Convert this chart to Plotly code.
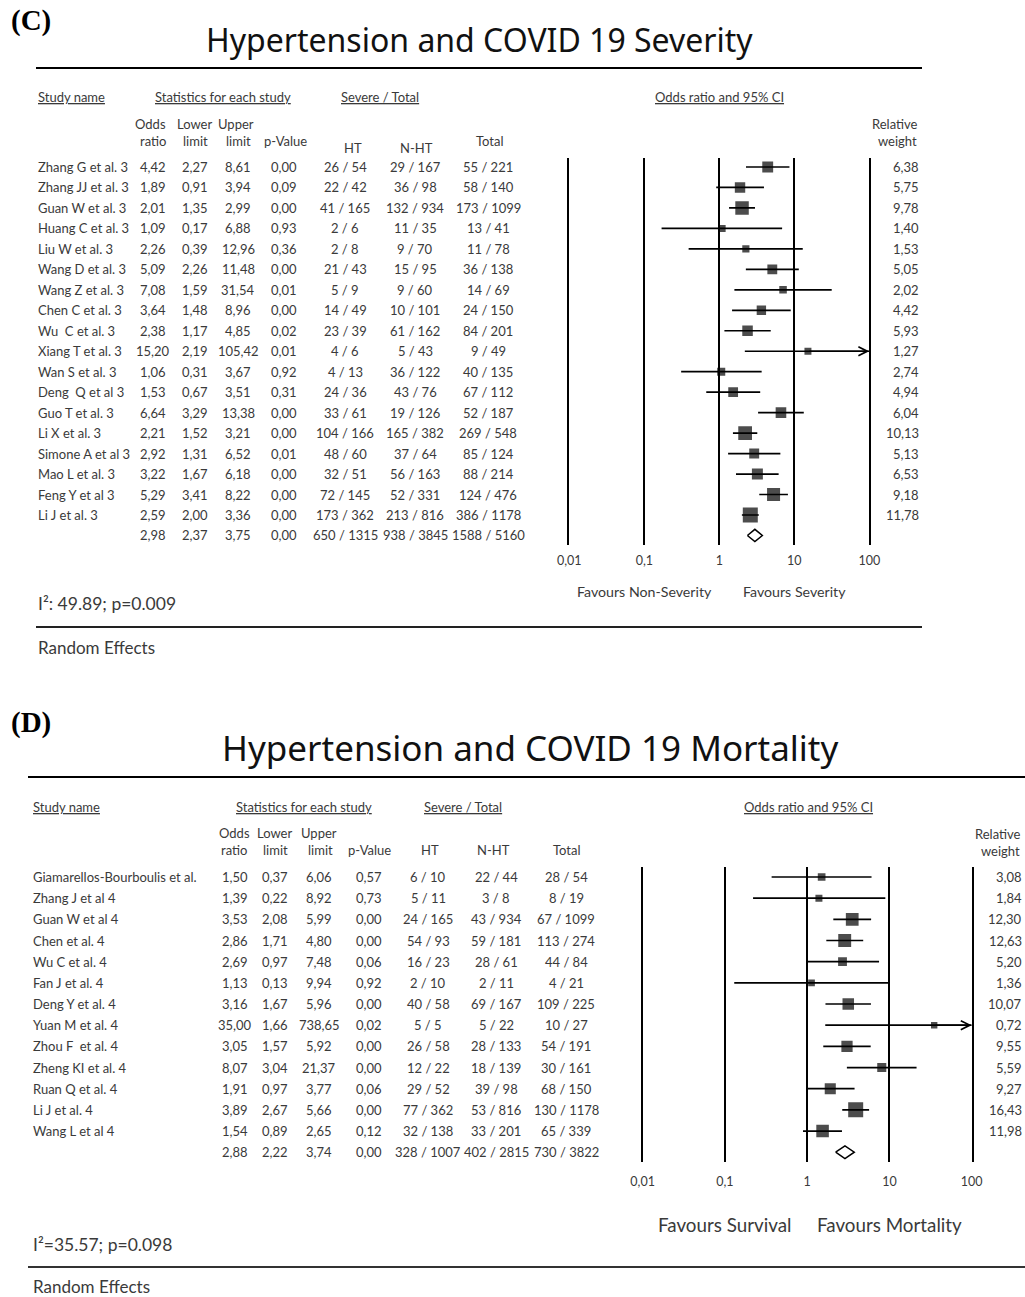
import math
import plotly.graph_objects as go

# ---------------- Panel C data (Severity) ----------------
c_study = ["Zhang G et al. 3", "Zhang JJ et al. 3", "Guan W et al. 3", "Huang C et al. 3",
           "Liu W et al. 3", "Wang D et al. 3", "Wang Z et al. 3", "Chen C et al. 3",
           "Wu  C et al. 3", "Xiang T et al. 3", "Wan S et al. 3", "Deng  Q et al 3",
           "Guo T et al. 3", "Li X et al. 3", "Simone A et al 3", "Mao L et al. 3",
           "Feng Y et al 3", "Li J et al. 3"]
c_or = [4.42, 1.89, 2.01, 1.09, 2.26, 5.09, 7.08, 3.64, 2.38, 15.20, 1.06, 1.53, 6.64, 2.21, 2.92, 3.22, 5.29, 2.59]
c_lo = [2.27, 0.91, 1.35, 0.17, 0.39, 2.26, 1.59, 1.48, 1.17, 2.19, 0.31, 0.67, 3.29, 1.52, 1.31, 1.67, 3.41, 2.00]
c_hi = [8.61, 3.94, 2.99, 6.88, 12.96, 11.48, 31.54, 8.96, 4.85, 105.42, 3.67, 3.51, 13.38, 3.21, 6.52, 6.18, 8.22, 3.36]
c_p = [0.00, 0.09, 0.00, 0.93, 0.36, 0.00, 0.01, 0.00, 0.02, 0.01, 0.92, 0.31, 0.00, 0.00, 0.01, 0.00, 0.00, 0.00]
c_ht = ["26 / 54", "22 / 42", "41 / 165", "2 / 6", "2 / 8", "21 / 43", "5 / 9", "14 / 49", "23 / 39",
        "4 / 6", "4 / 13", "24 / 36", "33 / 61", "104 / 166", "48 / 60", "32 / 51", "72 / 145", "173 / 362"]
c_nht = ["29 / 167", "36 / 98", "132 / 934", "11 / 35", "9 / 70", "15 / 95", "9 / 60", "10 / 101", "61 / 162",
         "5 / 43", "36 / 122", "43 / 76", "19 / 126", "165 / 382", "37 / 64", "56 / 163", "52 / 331", "213 / 816"]
c_tot = ["55 / 221", "58 / 140", "173 / 1099", "13 / 41", "11 / 78", "36 / 138", "14 / 69", "24 / 150", "84 / 201",
         "9 / 49", "40 / 135", "67 / 112", "52 / 187", "269 / 548", "85 / 124", "88 / 214", "124 / 476", "386 / 1178"]
c_w = [6.38, 5.75, 9.78, 1.40, 1.53, 5.05, 2.02, 4.42, 5.93, 1.27, 2.74, 4.94, 6.04, 10.13, 5.13, 6.53, 9.18, 11.78]
c_sum_or, c_sum_lo, c_sum_hi, c_sum_p = 2.98, 2.37, 3.75, 0.00
c_sum_ht, c_sum_nht, c_sum_tot = "650 / 1315", "938 / 3845", "1588 / 5160"
c_het = "I²: 49.89; p=0.009"

# ---------------- Panel D data (Mortality) ----------------
d_study = ["Giamarellos-Bourboulis et al.", "Zhang J et al 4", "Guan W et al 4", "Chen et al. 4",
           "Wu C et al. 4", "Fan J et al. 4", "Deng Y et al. 4", "Yuan M et al. 4", "Zhou F  et al. 4",
           "Zheng KI et al. 4", "Ruan Q et al. 4", "Li J et al. 4", "Wang L et al 4"]
d_or = [1.50, 1.39, 3.53, 2.86, 2.69, 1.13, 3.16, 35.00, 3.05, 8.07, 1.91, 3.89, 1.54]
d_lo = [0.37, 0.22, 2.08, 1.71, 0.97, 0.13, 1.67, 1.66, 1.57, 3.04, 0.97, 2.67, 0.89]
d_hi = [6.06, 8.92, 5.99, 4.80, 7.48, 9.94, 5.96, 738.65, 5.92, 21.37, 3.77, 5.66, 2.65]
d_p = [0.57, 0.73, 0.00, 0.00, 0.06, 0.92, 0.00, 0.02, 0.00, 0.00, 0.06, 0.00, 0.12]
d_ht = ["6 / 10", "5 / 11", "24 / 165", "54 / 93", "16 / 23", "2 / 10", "40 / 58", "5 / 5", "26 / 58",
        "12 / 22", "29 / 52", "77 / 362", "32 / 138"]
d_nht = ["22 / 44", "3 / 8", "43 / 934", "59 / 181", "28 / 61", "2 / 11", "69 / 167", "5 / 22", "28 / 133",
         "18 / 139", "39 / 98", "53 / 816", "33 / 201"]
d_tot = ["28 / 54", "8 / 19", "67 / 1099", "113 / 274", "44 / 84", "4 / 21", "109 / 225", "10 / 27",
         "54 / 191", "30 / 161", "68 / 150", "130 / 1178", "65 / 339"]
d_w = [3.08, 1.84, 12.30, 12.63, 5.20, 1.36, 10.07, 0.72, 9.55, 5.59, 9.27, 16.43, 11.98]
d_sum_or, d_sum_lo, d_sum_hi, d_sum_p = 2.88, 2.22, 3.74, 0.00
d_sum_ht, d_sum_nht, d_sum_tot = "328 / 1007", "402 / 2815", "730 / 3822"
d_het = "I²=35.57; p=0.098"

tick_vals = [0.01, 0.1, 1, 10, 100]
tick_text = ["0,01", "0,1", "1", "10", "100"]

# ---------------- helpers ----------------
W, H = 1025, 1297
TXT = "#3a3a3a"
TFONT = "Lato"
HFONT = "Noto Sans"
FS = 13


def px(x):
    return x / W


def py(y):
    return 1 - y / H


def fmt(v):
    return f"{v:.2f}".replace(".", ",")


fig = go.Figure()
ann = []
shapes = []


def txt(text, x, y, xref="paper", yref="paper", xanchor="center", size=FS, color=TXT,
        family=TFONT):
    ann.append(dict(text=text, x=x, y=y, xref=xref, yref=yref, xanchor=xanchor,
                    yanchor="middle", showarrow=False,
                    font=dict(size=size, color=color, family=family)))


def panel(xa, ya, names, ors, los, his, ps, hts, nhts, tots, ws,
          s_or, s_lo, s_hi, s_p, s_ht, s_nht, s_tot, cols, name_x, rw_x):
    n = len(names)
    xmax = max(tick_vals)
    for i in range(n):
        txt(names[i], px(name_x), i, yref=ya, xanchor="left")
        for key, val in (("or", fmt(ors[i])), ("lo", fmt(los[i])), ("hi", fmt(his[i])),
                         ("p", fmt(ps[i])), ("ht", hts[i]), ("nht", nhts[i]), ("tot", tots[i])):
            txt(val, px(cols[key]), i, yref=ya)
        txt(fmt(ws[i]), px(rw_x), i, yref=ya, xanchor="right")
    for key, val in (("or", fmt(s_or)), ("lo", fmt(s_lo)), ("hi", fmt(s_hi)), ("p", fmt(s_p)),
                     ("ht", s_ht), ("nht", s_nht), ("tot", s_tot)):
        txt(val, px(cols[key]), n, yref=ya)

    # CI lines
    xs, ys = [], []
    for i in range(n):
        xs += [los[i], min(his[i], xmax), None]
        ys += [i, i, None]
    fig.add_trace(go.Scatter(x=xs, y=ys, mode="lines", xaxis=xa, yaxis=ya,
                             line=dict(color="black", width=1.7), hoverinfo="skip"))
    # arrows for CIs beyond the axis
    for i in range(n):
        if his[i] > xmax:
            ann.append(dict(x=math.log10(xmax), y=i, xref=xa, yref=ya,
                            ax=math.log10(ors[i]), ay=i, axref=xa, ayref=ya,
                            showarrow=True, arrowhead=5, arrowsize=1.1, arrowwidth=1.6,
                            arrowcolor="black", standoff=0, text=""))
    # squares
    wmax = max(ws)
    fig.add_trace(go.Scatter(x=ors, y=list(range(n)), mode="markers", xaxis=xa, yaxis=ya,
                             marker=dict(symbol="square", color="black",
                                         size=[6 + 9 * w / wmax for w in ws],
                                         line=dict(width=0)),
                             hoverinfo="skip"))
    # summary diamond
    h = 0.3
    fig.add_trace(go.Scatter(x=[s_lo, s_or, s_hi, s_or, s_lo], y=[n, n - h, n, n + h, n],
                             mode="lines", fill="toself", fillcolor="white",
                             xaxis=xa, yaxis=ya, line=dict(color="black", width=1.5),
                             hoverinfo="skip"))


# ---------------- Panel C ----------------
C_ROW0, C_PITCH, C_TOP, C_BOT = 167, 20.47, 157.7, 545
panel("x", "y", c_study, c_or, c_lo, c_hi, c_p, c_ht, c_nht, c_tot, c_w,
      c_sum_or, c_sum_lo, c_sum_hi, c_sum_p, c_sum_ht, c_sum_nht, c_sum_tot,
      {"or": 153, "lo": 195, "hi": 238, "p": 284, "ht": 345, "nht": 415, "tot": 488},
      36, 921)

txt("<b>(C)</b>", px(9), py(20), xanchor="left", size=29, color="black", family="Liberation Serif")
txt("Hypertension and COVID 19 Severity", px(479), py(40), size=32, color="#111", family=HFONT)
shapes.append(dict(type="line", xref="paper", yref="paper", x0=px(36), x1=px(922),
                   y0=py(68), y1=py(68), line=dict(color="black", width=2)))
txt("<u>Study name</u>", px(36), py(97), xanchor="left")
txt("<u>Statistics for each study</u>", px(223), py(97))
txt("<u>Severe / Total</u>", px(380), py(97))
txt("<u>Odds ratio and 95% CI</u>", px(719), py(97))
txt("Odds", px(168), py(124), xanchor="right")
txt("ratio", px(168), py(141), xanchor="right")
txt("Lower", px(194), py(124))
txt("limit", px(195), py(141))
txt("Upper", px(236), py(124))
txt("limit", px(238), py(141))
txt("p-Value", px(285), py(141))
txt("HT", px(353), py(148))
txt("N-HT", px(416), py(148))
txt("Total", px(490), py(141))
txt("Relative", px(895), py(124))
txt("weight", px(897), py(141))
txt("Favours Non-Severity", -1, py(591), xref="x", size=14.2)
txt("Favours Severity", 1, py(591), xref="x", size=14.2)
txt(c_het, px(36), py(603), xanchor="left", size=17.5)
shapes.append(dict(type="line", xref="paper", yref="paper", x0=px(36), x1=px(922),
                   y0=py(627), y1=py(627), line=dict(color="#222", width=2)))
txt("Random Effects", px(36), py(647), xanchor="left", size=17)

# ---------------- Panel D ----------------
D_ROW0, D_PITCH, D_TOP, D_BOT = 877, 21.17, 867, 1162
panel("x2", "y2", d_study, d_or, d_lo, d_hi, d_p, d_ht, d_nht, d_tot, d_w,
      d_sum_or, d_sum_lo, d_sum_hi, d_sum_p, d_sum_ht, d_sum_nht, d_sum_tot,
      {"or": 234.5, "lo": 275, "hi": 319, "p": 369, "ht": 428, "nht": 496, "tot": 566},
      31, 1024)

txt("<b>(D)</b>", px(9), py(722), xanchor="left", size=29, color="black", family="Liberation Serif")
txt("Hypertension and COVID 19 Mortality", px(530), py(748), size=35, color="#111", family=HFONT)
shapes.append(dict(type="line", xref="paper", yref="paper", x0=px(28), x1=1,
                   y0=py(777), y1=py(777), line=dict(color="black", width=2)))
txt("<u>Study name</u>", px(31), py(807), xanchor="left")
txt("<u>Statistics for each study</u>", px(304), py(807))
txt("<u>Severe / Total</u>", px(463), py(807))
txt("<u>Odds ratio and 95% CI</u>", px(808), py(807))
txt("Odds", px(234), py(833))
txt("ratio", px(234), py(850))
txt("Lower", px(274), py(833))
txt("limit", px(275), py(850))
txt("Upper", px(319), py(833))
txt("limit", px(320), py(850))
txt("p-Value", px(369), py(850))
txt("HT", px(430), py(850))
txt("N-HT", px(493), py(850))
txt("Total", px(567), py(850))
txt("Relative", px(1023), py(834), xanchor="right")
txt("weight", px(1022), py(851), xanchor="right")
txt("Favours Survival", -1, py(1224), xref="x2", size=18.8)
txt("Favours Mortality", 1, py(1224), xref="x2", size=18.8)
txt(d_het, px(31), py(1244), xanchor="left", size=17.5)
shapes.append(dict(type="line", xref="paper", yref="paper", x0=px(28), x1=1,
                   y0=py(1267), y1=py(1267), line=dict(color="#333", width=2)))
txt("Random Effects", px(31), py(1286), xanchor="left", size=17)


def xaxis_cfg(left, right, standoff, fsize):
    return dict(type="log", range=[-2, 2], domain=[px(left), px(right)],
                tickvals=tick_vals, ticktext=tick_text, showgrid=True, gridcolor="black",
                gridwidth=1.7, zeroline=False, showline=False, ticks="",
                tickfont=dict(size=fsize, color=TXT, family=TFONT),
                ticklabelstandoff=standoff, fixedrange=True, automargin=False)


def yaxis_cfg(top, bot, row0, pitch, anchor):
    return dict(domain=[py(bot), py(top)], range=[(bot - row0) / pitch, (top - row0) / pitch],
                anchor=anchor, showline=True, mirror=True, linecolor="black", linewidth=2,
                showticklabels=False, showgrid=False, zeroline=False, ticks="",
                fixedrange=True, automargin=False)


fig.update_layout(
    width=W, height=H, margin=dict(l=0, r=0, t=0, b=0, pad=0, autoexpand=False),
    paper_bgcolor="white", plot_bgcolor="white", showlegend=False,
    font=dict(family=TFONT, size=FS, color=TXT),
    xaxis=dict(anchor="y", **xaxis_cfg(569.3, 869.3, 6, 12.5)),
    yaxis=yaxis_cfg(C_TOP, C_BOT, C_ROW0, C_PITCH, "x"),
    xaxis2=dict(anchor="y2", **xaxis_cfg(642.6, 971.7, 10, 12.5)),
    yaxis2=yaxis_cfg(D_TOP, D_BOT, D_ROW0, D_PITCH, "x2"),
    annotations=ann, shapes=shapes,
)

# the page's default 8px body margin would push the figure off the window
fig.write_html("out.html", config={"displayModeBar": False},
               post_script="document.body.style.margin='0';")
